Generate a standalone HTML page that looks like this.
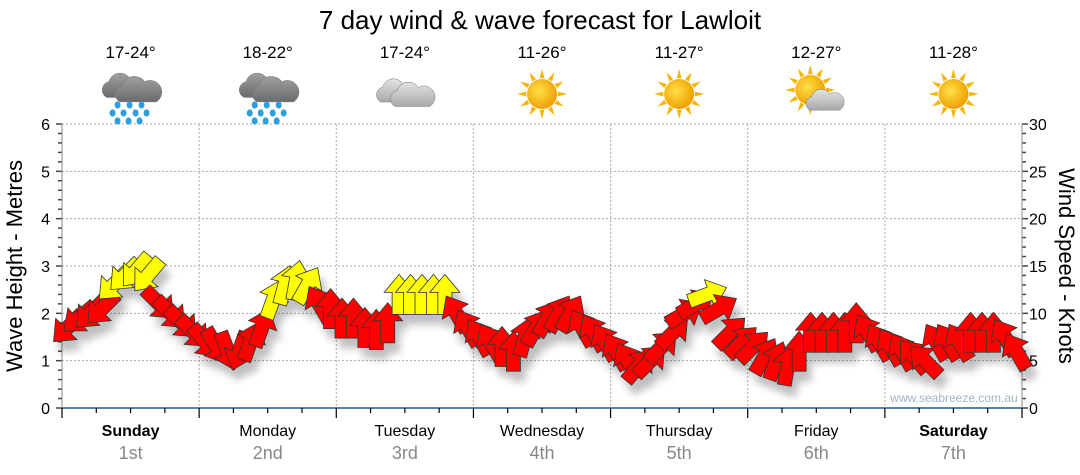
<!DOCTYPE html>
<html><head><meta charset="utf-8">
<style>
html,body{margin:0;padding:0;background:#fff;}
svg{display:block;font-family:"Liberation Sans",sans-serif;}
</style></head>
<body>
<svg id="chart" width="1080" height="475" viewBox="0 0 1080 475">
<defs>
<filter id="sh" x="-50%" y="-50%" width="200%" height="200%">
<feGaussianBlur in="SourceAlpha" stdDeviation="4"/>
<feOffset dx="5" dy="10" result="b"/>
<feComponentTransfer><feFuncA type="linear" slope="0.25"/></feComponentTransfer>
<feMerge><feMergeNode/><feMergeNode in="SourceGraphic"/></feMerge>
</filter>
<radialGradient id="sunG" cx="0.4" cy="0.4" r="0.6"><stop offset="0" stop-color="#ffe04a"/><stop offset="1" stop-color="#f0a000"/></radialGradient>
<linearGradient id="cloudG" x1="0" y1="0" x2="0" y2="1"><stop offset="0" stop-color="#a0a0a0"/><stop offset="1" stop-color="#6a6a6a"/></linearGradient>
<linearGradient id="cloudL" x1="0" y1="0" x2="0" y2="1"><stop offset="0" stop-color="#e4e4e4"/><stop offset="1" stop-color="#a8a8a8"/></linearGradient>
</defs>
<text x="540" y="29" text-anchor="middle" font-size="26" fill="#000">7 day wind &amp; wave forecast for Lawloit</text>
<g id="grid"></g>
<g id="axes"></g>
<g id="icons"></g>
<g id="arrows" filter="url(#sh)"></g>
<text x="954" y="402" text-anchor="middle" font-size="12" fill="#a0b4c8">www.seabreeze.com.au</text>
<text transform="translate(22,266) rotate(-90)" text-anchor="middle" font-size="22" fill="#000">Wave Height - Metres</text>
<text transform="translate(1059,266) rotate(90)" text-anchor="middle" font-size="22" fill="#000">Wind Speed - Knots</text>
</svg>
<script>
const days = ["Sunday","Monday","Tuesday","Wednesday","Thursday","Friday","Saturday"];
const dates = ["1st","2nd","3rd","4th","5th","6th","7th"];
const boldDays = [true,false,false,false,false,false,true];
const temps = ["17-24°","18-22°","17-24°","11-26°","11-27°","12-27°","11-28°"];
const weather = ["rain","rain","cloud","sun","sun","suncloud","sun"];
const waveTicks = [0,1,2,3,4,5,6];
const windTicks = [0,5,10,15,20,25,30];
const windSpeed = [
8.5,9.5,10,10.5,13,14,14.5,14,11,10,9,8,
7,6.5,6,6,7,8.5,11.5,13,13.5,13,11,10.5,
9.5,9.5,8.5,8.3,9,12,12,12,12,12,10,8.5,
7.5,7,6.5,6,7.5,8.5,9.5,10,10,8.5,8,7,
6,5,4.5,5,6.5,8,10,11,12,10.5,8,7,
6.5,5.5,5,4.5,6,8,8,8,8,9,8,7,
6.5,6,5.5,5,7,7,7,8,8,8,7.5,6];
const windDir = [
225,230,225,225,225,225,220,220,135,135,135,135,
140,150,160,200,20,20,20,15,10,30,330,0,
0,0,0,0,0,0,0,0,0,0,330,330,
330,330,0,0,15,30,30,30,30,330,330,330,
330,330,40,45,45,45,60,60,70,60,45,45,
45,30,20,10,0,0,0,0,0,0,330,330,
330,330,320,315,330,330,330,0,0,0,330,330];

const NS="http://www.w3.org/2000/svg";
const X0=62,X1=1022,Y0=408,Y6=124;
const dayW=(X1-X0)/7;
const yWave=v=>Y0-(v/6)*(Y0-Y6);
const yWind=v=>Y0-(v/30)*(Y0-Y6);
const xTime=i=>X0+(i+0.5)*(X1-X0)/windSpeed.length;
function mk(tag,attrs,parent){const e=document.createElementNS(NS,tag);for(const k in attrs)e.setAttribute(k,attrs[k]);parent.appendChild(e);return e;}
const grid=document.getElementById('grid'),axes=document.getElementById('axes'),icons=document.getElementById('icons'),arrows=document.getElementById('arrows');

waveTicks.forEach(v=>{
  if(v>0){const l=mk('line',{x1:X0,x2:X1,y1:yWave(v),y2:yWave(v),stroke:'#aaa','stroke-dasharray':'2,2','stroke-width':1},grid);
  
  }
  const t=mk('text',{x:50,y:yWave(v)+6,'text-anchor':'end','font-size':16,fill:'#000'},axes);t.textContent=v;
  
  
});
windTicks.forEach(v=>{
  const t=mk('text',{x:1029,y:yWind(v)+6,'font-size':16,fill:'#000'},axes);t.textContent=v;
  
  
});
for(let k=1;k<7;k++){const x=X0+k*dayW;
  const l=mk('line',{x1:x,x2:x,y1:Y6,y2:Y0,stroke:'#aaa','stroke-dasharray':'2,2'},grid);
  
  }
for(let k=0;k<=30;k++){const y=Y0-k*(Y0-Y6)/30;
  mk('line',{x1:X0-(k%5?4:6),x2:X0,y1:y,y2:y,stroke:'#444','stroke-width':1.5},axes);
  mk('line',{x1:X1,x2:X1+(k%5?4:6),y1:y,y2:y,stroke:'#444','stroke-width':1.5},axes);}
mk('line',{x1:X0,x2:X0,y1:Y6,y2:Y0,stroke:'#888'},axes);
mk('line',{x1:X1,x2:X1,y1:Y6,y2:Y0,stroke:'#888'},axes);
const xa=mk('line',{x1:X0,x2:X1,y1:Y0,y2:Y0,stroke:'#1a5a88','stroke-width':1.5},axes);


for(let k=0;k<=28;k++){const x=X0+k*dayW/4;
  mk('line',{x1:x,x2:x,y1:Y0,y2:Y0+(k%4?5:10),stroke:'#000','stroke-width':1.2},axes);}
days.forEach((d,i)=>{const cx=X0+(i+0.5)*dayW;
  const t=mk('text',{x:cx,y:436,'text-anchor':'middle','font-size':16,fill:'#000','font-weight':boldDays[i]?'bold':'normal'},axes);t.textContent=d;
  
  
  const t2=mk('text',{x:cx,y:459,'text-anchor':'middle','font-size':18,fill:'#888'},axes);t2.textContent=dates[i];
  
  
  const t3=mk('text',{x:cx,y:58,'text-anchor':'middle','font-size':17,fill:'#000'},icons);t3.textContent=temps[i];
  
  
  const g=mk('g',{transform:`translate(${cx},94)`},icons);
  
  
  drawIcon(g,weather[i]);
});
function cloud(g,dx,dy,s,fill){
  mk('path',{d:`M${dx-16*s},${dy+9*s} a${8*s},${8*s} 0 0 1 ${2*s},${-15*s} a${11*s},${11*s} 0 0 1 ${20*s},${-3*s} a${9*s},${9*s} 0 0 1 ${11*s},${18*s} z`,fill:fill,stroke:'#777','stroke-width':0.5},g);
}
function drawIcon(g,type){
  if(type==='sun'||type==='suncloud'){
    const sx=type==='sun'?0:-6,sy=type==='sun'?0:-4;
    for(let a=0;a<360;a+=30){const r=a*Math.PI/180;
      mk('polygon',{points:`${sx+Math.cos(r-0.15)*16},${sy+Math.sin(r-0.15)*16} ${sx+Math.cos(r)*25},${sy+Math.sin(r)*25} ${sx+Math.cos(r+0.15)*16},${sy+Math.sin(r+0.15)*16}`,fill:'#f4b400'},g);}
    mk('circle',{cx:sx,cy:sy,r:15,fill:'url(#sunG)'},g);
    if(type==='suncloud')cloud(g,8,8,0.9,'url(#cloudL)');
  } else if(type==='rain'){
    cloud(g,-7,-6,1.05,'url(#cloudG)');cloud(g,7,-2,1.1,'url(#cloudG)');
    [[-13,11],[-1,11],[11,11],[-18,19],[-7,19],[5,19],[16,19],[-13,27],[-2,27],[9,27]].forEach(p=>mk('ellipse',{cx:p[0],cy:p[1],rx:3,ry:3.6,fill:'#2aa0e0'},g));
  } else {
    cloud(g,-8,-1,1,'url(#cloudL)');cloud(g,7,3,1.05,'url(#cloudL)');
  }
}
windSpeed.forEach((v,i)=>{
  const x=xTime(i),y=yWind(v);
  const col=v>=11.2?'#ffff00':'#ff0000';
  const p=mk('polygon',{points:'-7,20 -7,-2 -15,-2 0,-20 15,-2 7,-2 7,20',fill:col,stroke:'#333','stroke-width':0.8,transform:`translate(${x},${y}) rotate(${windDir[i]})`},arrows);
  
  
});
</script>
</body></html>
